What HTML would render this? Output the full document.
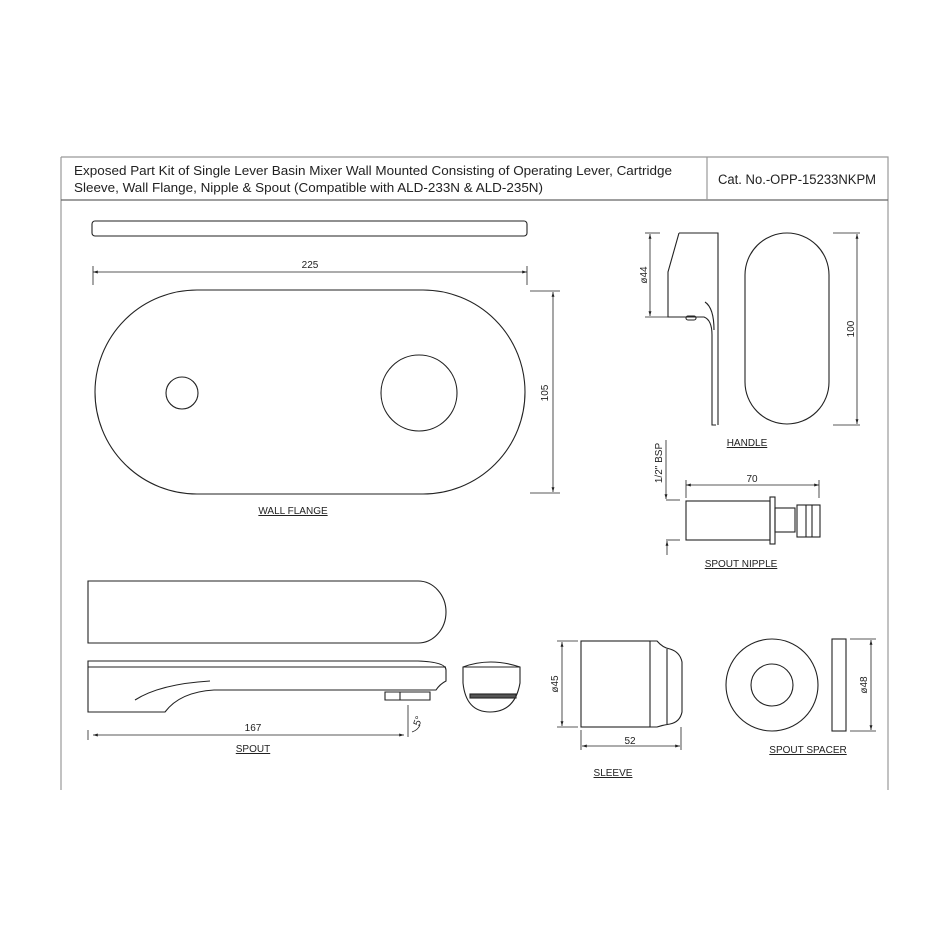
<!DOCTYPE html>
<html><head><meta charset="utf-8"><style>
html,body{margin:0;padding:0;background:#fff;}
svg{display:block;font-family:"Liberation Sans",sans-serif;}
</style></head><body>
<svg width="950" height="950" viewBox="0 0 950 950" xmlns="http://www.w3.org/2000/svg">
<defs>
<marker id="a" viewBox="0 0 10 10" refX="10" refY="5" markerWidth="6" markerHeight="6" orient="auto-start-reverse"><path d="M0,2 L10,5 L0,8z" fill="#222"/></marker>
</defs>
<g fill="none" stroke="#999" stroke-width="1.2">
<path d="M61,157 H888 V790"/><path d="M61,157 V790"/>
<line x1="61" y1="200" x2="888" y2="200" stroke="#666"/>
<line x1="707" y1="157" x2="707" y2="200"/>
</g>
<g font-size="13" fill="#222">
<text x="74" y="175" textLength="598" lengthAdjust="spacingAndGlyphs">Exposed Part Kit of Single Lever Basin Mixer Wall Mounted Consisting of Operating Lever, Cartridge</text>
<text x="74" y="192" textLength="469" lengthAdjust="spacingAndGlyphs">Sleeve, Wall Flange, Nipple &amp; Spout (Compatible with ALD-233N &amp; ALD-235N)</text>
<text x="718" y="184" font-size="13.5" textLength="158" lengthAdjust="spacingAndGlyphs">Cat. No.-OPP-15233NKPM</text>
</g>
<g fill="none" stroke="#222" stroke-width="1.1">
<rect x="92" y="221" width="435" height="15" rx="3"/>
<line x1="93" y1="272" x2="527" y2="272" marker-start="url(#a)" marker-end="url(#a)" stroke-width="0.8"/>
<line x1="93" y1="266" x2="93" y2="285" stroke-width="0.8"/><line x1="527" y1="266" x2="527" y2="285" stroke-width="0.8"/>
<rect x="95" y="290" width="430" height="204" rx="102"/>
<circle cx="182" cy="393" r="16"/><circle cx="419" cy="393" r="38"/>
<line x1="553" y1="292" x2="553" y2="492" marker-start="url(#a)" marker-end="url(#a)" stroke-width="0.8"/>
<line x1="530" y1="291" x2="560" y2="291" stroke-width="0.8"/><line x1="530" y1="493" x2="560" y2="493" stroke-width="0.8"/>
<path d="M679,233 H718 V425 M679,233 L668,272 V317 H704 Q712,320 712,335 V425 L716,425"/>
<path d="M705,302 Q714,308 714,330"/>
<rect x="686" y="316" width="10" height="4" rx="2"/>
<line x1="650" y1="234" x2="650" y2="316" marker-start="url(#a)" marker-end="url(#a)" stroke-width="0.8"/>
<line x1="645" y1="233" x2="660" y2="233" stroke-width="0.8"/><line x1="645" y1="317" x2="668" y2="317" stroke-width="0.8"/>
<rect x="745" y="233" width="84" height="191" rx="42"/>
<line x1="857" y1="234" x2="857" y2="424" marker-start="url(#a)" marker-end="url(#a)" stroke-width="0.8"/>
<line x1="833" y1="233" x2="860" y2="233" stroke-width="0.8"/><line x1="833" y1="425" x2="860" y2="425" stroke-width="0.8"/>
<line x1="686" y1="485" x2="819" y2="485" marker-start="url(#a)" marker-end="url(#a)" stroke-width="0.8"/>
<line x1="686" y1="480" x2="686" y2="498" stroke-width="0.8"/><line x1="819" y1="480" x2="819" y2="498" stroke-width="0.8"/>
<line x1="666" y1="440" x2="666" y2="499" marker-end="url(#a)" stroke-width="0.8"/>
<line x1="666" y1="500" x2="680" y2="500" stroke-width="0.8"/><line x1="666" y1="540" x2="680" y2="540" stroke-width="0.8"/>
<line x1="667" y1="555" x2="667" y2="541" marker-end="url(#a)" stroke-width="0.8"/>
<rect x="686" y="501" width="84" height="39"/>
<rect x="770" y="497" width="5" height="47"/>
<rect x="775" y="508" width="20" height="24"/>
<rect x="797" y="505" width="23" height="32"/>
<line x1="806" y1="505" x2="806" y2="537"/><line x1="812" y1="505" x2="812" y2="537"/>
<path d="M88,581 H418 A28,31 0 0 1 418,643 H88 Z"/>
<path d="M88,661 H418 Q446,662 446,670 V681 Q440,684 436,690 H214 Q180,692 165,712 H88 Z"/>
<line x1="88" y1="667" x2="446" y2="667"/>
<path d="M135,700 Q160,684 210,681"/>
<path d="M385,692 H430 V700 H385 Z M400,692 V700"/>
<line x1="93" y1="735" x2="404" y2="735" marker-start="url(#a)" marker-end="url(#a)" stroke-width="0.8"/>
<line x1="88" y1="730" x2="88" y2="740" stroke-width="0.8"/>
<line x1="408" y1="705" x2="408" y2="737" stroke-width="0.8"/>
<path d="M412,732 Q418,730 420,725" stroke-width="0.8"/>
<path d="M463,667 Q490,657 520,667 V683 Q515,712 490,712 Q466,712 463,683 Z"/>
<line x1="463" y1="667" x2="520" y2="667"/>
<rect x="470" y="694" width="46" height="4" fill="#555"/>
<rect x="581" y="641" width="69" height="86"/>
<path d="M650,641 H657 Q663,648 670,649 Q680,652 682,662 V712 Q680,722 670,724 Q663,725 657,727 H650"/>
<line x1="667" y1="649" x2="667" y2="724"/>
<line x1="562" y1="642" x2="562" y2="726" marker-start="url(#a)" marker-end="url(#a)" stroke-width="0.8"/>
<line x1="557" y1="641" x2="578" y2="641" stroke-width="0.8"/><line x1="557" y1="727" x2="578" y2="727" stroke-width="0.8"/>
<line x1="582" y1="746" x2="680" y2="746" marker-start="url(#a)" marker-end="url(#a)" stroke-width="0.8"/>
<line x1="581" y1="730" x2="581" y2="750" stroke-width="0.8"/><line x1="681" y1="727" x2="681" y2="750" stroke-width="0.8"/>
<circle cx="772" cy="685" r="46"/><circle cx="772" cy="685" r="21"/>
<rect x="832" y="639" width="14" height="92"/>
<line x1="871" y1="640" x2="871" y2="730" marker-start="url(#a)" marker-end="url(#a)" stroke-width="0.8"/>
<line x1="850" y1="639" x2="876" y2="639" stroke-width="0.8"/><line x1="850" y1="731" x2="876" y2="731" stroke-width="0.8"/>
</g>
<g font-size="10" fill="#222" text-anchor="middle">
<text x="310" y="268">225</text>
<text transform="translate(548,393) rotate(-90)">105</text>
<text transform="translate(647,275) rotate(-90)">ø44</text>
<text transform="translate(854,329) rotate(-90)">100</text>
<text transform="translate(662,463) rotate(-90)">1/2" BSP</text>
<text x="752" y="482">70</text>
<text x="253" y="731">167</text>
<text transform="translate(421,722) rotate(-70)">5°</text>
<text transform="translate(558,684) rotate(-90)">ø45</text>
<text x="630" y="744">52</text>
<text transform="translate(867,685) rotate(-90)">ø48</text>
<g text-decoration="underline">
<text x="293" y="514">WALL FLANGE</text>
<text x="747" y="446">HANDLE</text>
<text x="741" y="567">SPOUT NIPPLE</text>
<text x="253" y="752">SPOUT</text>
<text x="808" y="753">SPOUT SPACER</text>
<text x="613" y="776">SLEEVE</text>
</g>
</g>
</svg>
</body></html>
